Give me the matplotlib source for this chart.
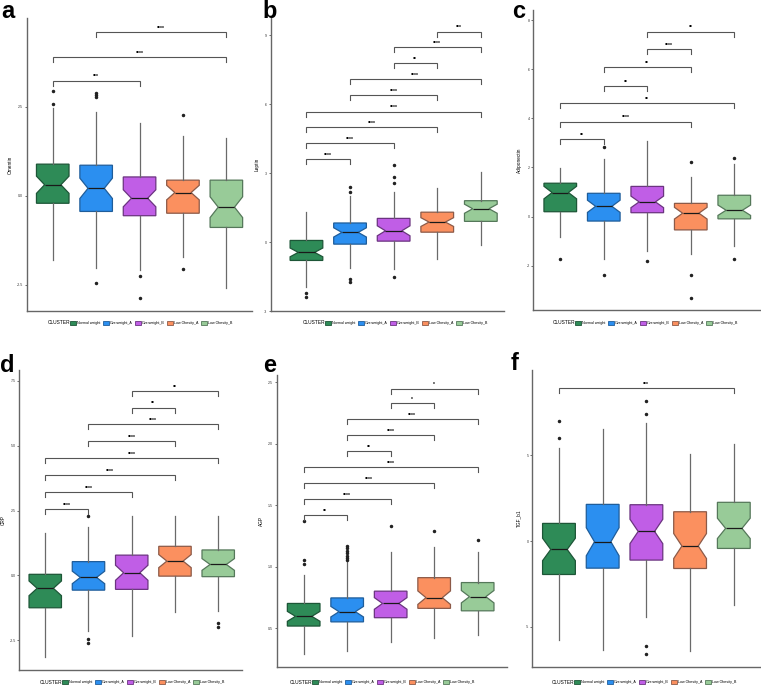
import matplotlib
matplotlib.use('Agg')
import matplotlib.pyplot as plt
from matplotlib.patches import Patch
import numpy as np

plt.rcParams['font.family'] = ['Liberation Sans', 'DejaVu Sans']

W, H = 761, 685

clusters = ['Normal weight', 'Overweight_A', 'Overweight_B', 'Low Obesity_A', 'Low Obesity_B']
fills = ['#2e8b57', '#2b8ff0', '#c05ee6', '#fb905f', '#98cb98']
edges = ['#1d5637', '#1f5d9a', '#6b3480', '#8c5a48', '#55785a']

# a - Omentin
a_q1 = [-0.21, -0.44, -0.56, -0.49, -0.89]
a_med = [0.31, 0.21, -0.07, 0.09, -0.32]
a_q3 = [0.89, 0.86, 0.53, 0.44, 0.44]
a_lo = [-1.80, -2.04, -2.08, -1.71, -2.60]
a_hi = [2.48, 2.35, 2.06, 1.69, 1.62]
a_out = [[2.94, 2.58], [2.90, 2.84, 2.78, -2.44], [-2.25, -2.88], [2.27, -2.06], []]
a_pairs = [(1, 3), (1, 5), (2, 5)]
a_pair_y = [3.24, 3.90, 4.61]
a_stars = ['***', '****', '****']
a_ticks = [-2.5, 0.0, 2.5]
a_ticklabels = ['-2.5', '0.0', '2.5']

# b - Leptin
b_q1 = [-0.80, -0.09, 0.04, 0.43, 0.90]
b_med = [-0.45, 0.42, 0.49, 0.87, 1.45]
b_q3 = [0.07, 0.83, 1.03, 1.30, 1.80]
b_lo = [-1.96, -1.13, -1.17, -0.74, -0.12]
b_hi = [1.30, 1.99, 2.16, 2.35, 3.03]
b_out = [[-2.22, -2.40], [2.38, 2.20, -1.60, -1.75], [3.36, 2.81, 2.57, -1.52], [], []]
b_pairs = [(1, 2), (1, 3), (1, 4), (1, 5), (2, 4), (2, 5), (3, 4), (3, 5), (4, 5)]
b_pair_y = [3.62, 4.30, 4.99, 5.68, 6.38, 7.09, 7.78, 8.48, 9.16]
b_stars = ['****', '****', '****', '****', '****', '****', '**', '****', '***']
b_ticks = [-3, 0, 3, 6, 9]
b_ticklabels = ['-3', '0', '3', '6', '9']

# c - Adiponectin
c_q1 = [0.20, -0.18, 0.16, -0.54, -0.09]
c_med = [0.98, 0.42, 0.60, 0.14, 0.26]
c_q3 = [1.36, 0.95, 1.23, 0.54, 0.87]
c_lo = [-0.84, -1.74, -1.38, -1.53, -1.19]
c_hi = [1.97, 2.33, 3.09, 1.60, 2.14]
c_out = [[-1.71], [2.82, -2.37], [-1.79], [2.23, -2.37, -3.30], [2.39, -1.74]]
c_pairs = [(1, 2), (1, 4), (1, 5), (2, 3), (2, 4), (3, 4), (3, 5)]
c_pair_y = [3.15, 3.87, 4.61, 5.33, 6.07, 6.81, 7.53]
c_stars = ['**', '****', '**', '**', '**', '****', '**']
c_ticks = [-2, 0, 2, 4, 6, 8]
c_ticklabels = ['-2', '0', '2', '4', '6', '8']

# d - CRP
d_q1 = [-1.25, -0.57, -0.54, -0.03, -0.05]
d_med = [-0.50, -0.08, 0.10, 0.55, 0.42]
d_q3 = [0.04, 0.53, 0.78, 1.12, 0.98]
d_lo = [-3.14, -2.15, -2.34, -1.40, -1.36]
d_hi = [1.62, 1.88, 2.29, 2.29, 2.29]
d_out = [[], [2.30, -2.47, -2.62], [], [], [-1.83, -1.98]]
d_pairs = [(1, 2), (1, 3), (1, 4), (1, 5), (2, 4), (2, 5), (3, 4), (3, 5)]
d_pair_y = [2.55, 3.20, 3.86, 4.51, 5.17, 5.82, 6.47, 7.12]
d_stars = ['****', '****', '****', '****', '****', '****', '**', '**']
d_ticks = [-2.5, 0.0, 2.5, 5.0, 7.5]
d_ticklabels = ['-2.5', '0.0', '2.5', '5.0', '7.5']

# e - AGP
e_q1 = [0.516, 0.550, 0.584, 0.660, 0.640]
e_med = [0.595, 0.633, 0.700, 0.747, 0.755]
e_q3 = [0.700, 0.745, 0.800, 0.910, 0.870]
e_lo = [0.288, 0.310, 0.390, 0.420, 0.440]
e_hi = [0.930, 1.040, 1.120, 1.160, 1.120]
e_out = [[1.37, 1.054, 1.02], [1.05, 1.07, 1.09, 1.11, 1.13, 1.15, 1.17], [1.33], [1.29], [1.22]]
e_pairs = [(1, 2), (1, 3), (1, 4), (1, 5), (2, 3), (2, 4), (2, 5), (3, 4), (3, 5)]
e_pair_y = [1.42, 1.55, 1.68, 1.81, 1.94, 2.07, 2.20, 2.33, 2.45]
e_stars = ['**', '****', '****', '****', '**', '****', '****', '*', '*']
e_ticks = [0.5, 1.0, 1.5, 2.0, 2.5]
e_ticklabels = ['0.5', '1.0', '1.5', '2.0', '2.5']

# f - TGF_b1
f_q1 = [-1.95, -1.58, -1.11, -1.60, -0.43]
f_med = [-0.49, -0.04, 0.56, -0.29, 0.74]
f_q3 = [1.03, 2.14, 2.12, 1.71, 2.26]
f_lo = [-5.78, -6.36, -4.42, -6.42, -3.74]
f_hi = [5.45, 6.52, 6.87, 5.06, 5.66]
f_out = [[7.02, 6.01], [], [8.19, 7.41, -6.13, -6.56], [], []]
f_pairs = [(1, 5)]
f_pair_y = [8.95]
f_stars = ['***']
f_ticks = [-5, 0, 5]
f_ticklabels = ['-5', '0', '5']

# notch half-width relative to IQR (ggplot: 1.58 / sqrt(n))
notch_frac = 0.22

panels = [
    ('a', 'Omentin', a_q1, a_med, a_q3, a_lo, a_hi, a_out, a_pairs, a_pair_y, a_stars, a_ticks, a_ticklabels),
    ('b', 'Leptin', b_q1, b_med, b_q3, b_lo, b_hi, b_out, b_pairs, b_pair_y, b_stars, b_ticks, b_ticklabels),
    ('c', 'Adiponectin', c_q1, c_med, c_q3, c_lo, c_hi, c_out, c_pairs, c_pair_y, c_stars, c_ticks, c_ticklabels),
    ('d', 'CRP', d_q1, d_med, d_q3, d_lo, d_hi, d_out, d_pairs, d_pair_y, d_stars, d_ticks, d_ticklabels),
    ('e', 'AGP', e_q1, e_med, e_q3, e_lo, e_hi, e_out, e_pairs, e_pair_y, e_stars, e_ticks, e_ticklabels),
    ('f', 'TGF_b1', f_q1, f_med, f_q3, f_lo, f_hi, f_out, f_pairs, f_pair_y, f_stars, f_ticks, f_ticklabels),
]

# layout in pixels: left, right, top, bottom ; xlim ; ylim ; letter pos ; legend left x, legend y
layout = {
    'a': ((26.7, 252.4, 18, 311), (0.40, 5.60), (-3.24, 5.00), (1, 18), (48, 323)),
    'b': ((270.7, 503.5, 18, 311), (0.18, 5.52), (-3.00, 9.75), (262, 18), (303, 323)),
    'c': ((533.3, 760.8, 10, 310), (0.38, 5.61), (-3.80, 8.41), (512, 18), (553, 323)),
    'd': ((19.3, 242.0, 370, 670), (0.40, 5.55), (-3.65, 7.92), (0, 372), (40, 682)),
    'e': ((276.7, 506.8, 375, 666.7), (0.38, 5.67), (0.185, 2.56), (263, 372), (290, 682)),
    'f': ((532.3, 760.9, 370, 666.7), (0.39, 5.62), (-7.33, 9.98), (511, 370), (552, 682)),
}

fig = plt.figure(figsize=(W / 100, H / 100), dpi=100)

for letter, ylab, q1, med, q3, lo, hi, out, pairs, pair_y, stars, ticks, ticklabels in panels:
    (l, r, t, b), xlim, ylim, (lx, ly), (gx, gy) = layout[letter]
    ax = fig.add_axes([l / W, 1 - b / H, (r - l) / W, (b - t) / H])

    stats = []
    for i in range(5):
        iqr = q3[i] - q1[i]
        stats.append(dict(med=med[i], q1=q1[i], q3=q3[i], whislo=lo[i], whishi=hi[i],
                          cilo=med[i] - notch_frac * iqr, cihi=med[i] + notch_frac * iqr,
                          fliers=out[i]))
    bp = ax.bxp(stats, positions=range(1, 6), widths=0.75, shownotches=True, patch_artist=True,
                showcaps=False,
                whiskerprops=dict(color='#6a6a6a', lw=0.9),
                medianprops=dict(color='#1a1a1a', lw=0.9),
                flierprops=dict(marker='o', markersize=1.5, markerfacecolor='#222222',
                                markeredgecolor='#222222', linestyle='none'))
    for patch, fc, ec in zip(bp['boxes'], fills, edges):
        patch.set_facecolor(fc)
        patch.set_edgecolor(ec)
        patch.set_linewidth(0.9)

    ax.set_xlim(*xlim)
    ax.set_ylim(*ylim)
    ax.set_xticks([])
    ax.set_yticks(ticks)
    ax.set_yticklabels(ticklabels)
    ax.tick_params(axis='y', labelsize=2.6, length=1.5, width=0.5, pad=1, colors='#333333')
    ax.set_ylabel(ylab, fontsize=3.4, labelpad=3)
    for s in ['top', 'right']:
        ax.spines[s].set_visible(False)
    for s in ['left', 'bottom']:
        ax.spines[s].set_color('#666666')
        ax.spines[s].set_linewidth(1.0)

    # significance brackets
    tick = 5.0 / (b - t) * (ylim[1] - ylim[0])
    for (i, j), y, lab in zip(pairs, pair_y, stars):
        ax.plot([i, i, j, j], [y - tick, y, y, y - tick], color='#555555', lw=0.8,
                clip_on=False, solid_joinstyle='miter')
        ax.annotate(lab, xy=((i + j) / 2, y), xytext=(0, 1.6), textcoords='offset points',
                    ha='center', va='baseline', fontsize=3.6, fontweight='bold')

    fig.text(lx / W, 1 - ly / H, letter, fontsize=17, fontweight='bold', va='baseline', ha='left')

    # legend
    fig.text(gx / W, 1 - gy / H, 'CLUSTER', fontsize=3.5, va='center', ha='left')
    handles = [Patch(facecolor=fc, edgecolor=ec, lw=0.6) for fc, ec in zip(fills, edges)]
    fig.legend(handles, clusters, loc='center left', bbox_to_anchor=((gx + 22) / W, 1 - gy / H),
               ncol=5, fontsize=2.6, frameon=False, handlelength=1.7, handleheight=1.5,
               handletextpad=0.35, columnspacing=0.55, borderaxespad=0, borderpad=0)

fig.savefig('out.png', dpi=100)
